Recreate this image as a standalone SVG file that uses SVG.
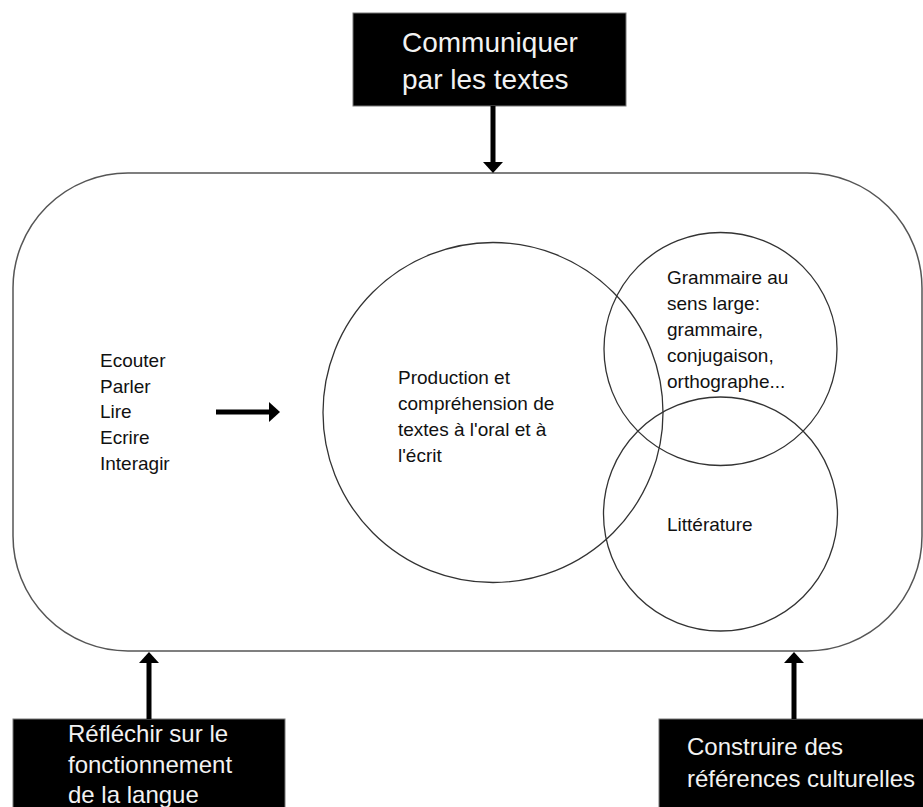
<svg xmlns="http://www.w3.org/2000/svg" width="923" height="807" viewBox="0 0 923 807">
  <defs>
    <marker id="head" markerUnits="userSpaceOnUse" markerWidth="11" markerHeight="20" refX="0" refY="10" orient="auto">
      <path d="M0,0 L11,10 L0,20 z" fill="#000"/>
    </marker>
  </defs>
  <style>
    .t { font-family: "Liberation Sans", Arial, sans-serif; font-size: 19px; fill: #111; }
    .bt { font-family: "Liberation Sans", Arial, sans-serif; fill: #f2f2f2; }
    .box { fill: #000; stroke: #777; stroke-width: 1; }
    .circ { fill: none; stroke: #333; stroke-width: 1.3; }
    .conn { stroke: #000; stroke-width: 5; fill: none; }
  </style>
  <rect width="923" height="807" fill="#fff"/>

  <g id="main-frame">
    <rect x="13" y="173" width="909" height="478" rx="115" ry="115" fill="none" stroke="#555" stroke-width="1.5"/>
  </g>

  <g id="skills">
    <text class="t" x="100" y="367">Ecouter</text>
    <text class="t" x="100" y="393">Parler</text>
    <text class="t" x="100" y="418">Lire</text>
    <text class="t" x="100" y="444">Ecrire</text>
    <text class="t" x="100" y="470">Interagir</text>
  </g>

  <g id="production">
    <circle class="circ" cx="493" cy="412.5" r="170"/>
    <text class="t" x="398" y="384">Production et</text>
    <text class="t" x="398" y="410">compréhension de</text>
    <text class="t" x="398" y="436">textes à l'oral et à</text>
    <text class="t" x="398" y="462">l'écrit</text>
  </g>

  <g id="grammaire">
    <circle class="circ" cx="720.5" cy="349" r="116.5"/>
    <text class="t" x="667" y="284">Grammaire au</text>
    <text class="t" x="667" y="310">sens large:</text>
    <text class="t" x="667" y="336">grammaire,</text>
    <text class="t" x="667" y="362">conjugaison,</text>
    <text class="t" x="667" y="388">orthographe...</text>
  </g>

  <g id="litterature">
    <circle class="circ" cx="720.5" cy="514" r="117"/>
    <text class="t" x="667" y="531">Littérature</text>
  </g>

  <g id="communiquer">
    <rect class="box" x="353" y="13" width="273" height="93"/>
    <text class="bt" x="402" y="52" font-size="28">Communiquer</text>
    <text class="bt" x="402" y="89" font-size="28">par les textes</text>
  </g>

  <g id="reflechir">
    <rect class="box" x="13" y="719" width="272" height="95"/>
    <text class="bt" x="68" y="742" font-size="24">Réfléchir sur le</text>
    <text class="bt" x="68" y="773" font-size="24">fonctionnement</text>
    <text class="bt" x="68" y="803" font-size="24">de la langue</text>
  </g>

  <g id="construire">
    <rect class="box" x="659" y="719" width="270" height="95"/>
    <text class="bt" x="687" y="755" font-size="24">Construire des</text>
    <text class="bt" x="687" y="787" font-size="24">références culturelles</text>
  </g>

  <g id="connectors">
    <line class="conn" x1="493" y1="106" x2="493" y2="162" marker-end="url(#head)"/>
    <line class="conn" x1="216" y1="412" x2="269" y2="412" marker-end="url(#head)"/>
    <line class="conn" x1="149" y1="719" x2="149" y2="663" marker-end="url(#head)"/>
    <line class="conn" x1="794" y1="719" x2="794" y2="663" marker-end="url(#head)"/>
  </g>
</svg>
